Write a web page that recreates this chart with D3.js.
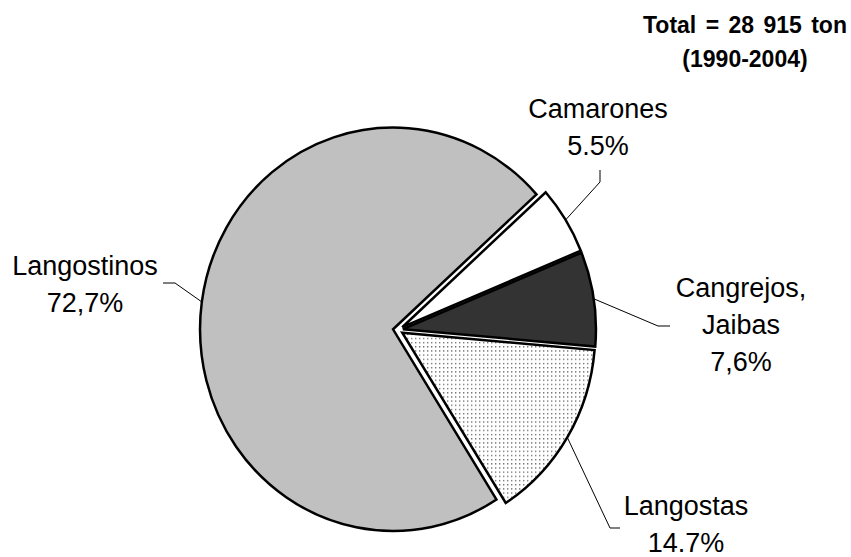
<!DOCTYPE html>
<html>
<head>
<meta charset="utf-8">
<script src="https://cdn.jsdelivr.net/npm/d3@7"></script>
<style>
  html, body { margin: 0; padding: 0; background: #ffffff; }
  svg { display: block; }
  text { font-family: "Liberation Sans", Arial, sans-serif; fill: #000; }
</style>
</head>
<body>
<svg id="chart" width="851" height="557"></svg>
<script>
// Crustacean landings share, 1990-2004
const categories = ["Camarones", "Cangrejos, Jaibas", "Langostas", "Langostinos"];
const shares = [5.5, 7.6, 14.7, 72.7];
const nameLines = [["Camarones"], ["Cangrejos,", "Jaibas"], ["Langostas"], ["Langostinos"]];
const valueLabels = ["5.5%", "7,6%", "14.7%", "72,7%"];
const titleLines = ["Total = 28 915 ton", "(1990-2004)"];

// Layout
const W = 851, H = 557;
const cx = 398, cy = 330, R = 193, yStretch = 1.045, explode = 5;
const startDeg = 48;
const fills = ["#ffffff", "#333333", "url(#dots)", "#c0c0c0"];
// label anchor (centre x, first baseline) and leader elbow/end per slice
const labelLayout = [
  { x: 598, y: 118, elbow: [600, 182], end: [600, 170] },
  { x: 741, y: 297, elbow: [658, 326], end: [670, 326] },
  { x: 686, y: 515, elbow: [610, 528], end: [620, 528] },
  { x: 85,  y: 275, elbow: [175, 283], end: [163, 283] }
];
const lineGap = 37;

const svg = d3.select("#chart");

// dotted fill
const defs = svg.append("defs");
const pat = defs.append("pattern")
  .attr("id", "dots").attr("patternUnits", "userSpaceOnUse")
  .attr("width", 4).attr("height", 4);
pat.append("rect").attr("width", 4).attr("height", 4).attr("fill", "#ffffff");
pat.append("rect").attr("x", 1).attr("y", 1).attr("width", 1).attr("height", 1).attr("fill", "#000");

const a0 = startDeg * Math.PI / 180;
const pie = d3.pie().sort(null).value(d => d).startAngle(a0).endAngle(a0 + 2 * Math.PI);
const arcs = pie(shares);
const arc = d3.arc().innerRadius(0).outerRadius(R);

const g = svg.append("g")
  .attr("transform", `translate(${cx},${cy}) scale(1,${yStretch})`);

const mid = d => (d.startAngle + d.endAngle) / 2;

g.selectAll("path.slice")
  .data(arcs)
  .join("path")
  .attr("class", "slice")
  .attr("d", arc)
  .attr("transform", d => `translate(${explode * Math.sin(mid(d))},${-explode * Math.cos(mid(d))})`)
  .attr("fill", (d, i) => fills[i])
  .attr("stroke", "#000")
  .attr("stroke-width", 2.5)
  .attr("stroke-linejoin", "miter")
  .attr("vector-effect", "non-scaling-stroke");

// leader lines from the arc midpoint of each slice
arcs.forEach((d, i) => {
  const m = mid(d);
  const px = cx + (R + explode) * Math.sin(m);
  const py = cy - (R + explode) * Math.cos(m) * yStretch;
  const L = labelLayout[i];
  svg.append("polyline")
    .attr("points", [[px, py], L.elbow, L.end].map(p => p.join(",")).join(" "))
    .attr("fill", "none")
    .attr("stroke", "#000")
    .attr("stroke-width", 1);
});

// slice labels
arcs.forEach((d, i) => {
  const L = labelLayout[i];
  const lines = nameLines[i].concat([valueLabels[i]]);
  const t = svg.append("text")
    .attr("text-anchor", "middle")
    .attr("font-size", 27);
  lines.forEach((s, k) => {
    t.append("tspan").attr("x", L.x).attr("y", L.y + k * lineGap).text(s);
  });
});

// total
svg.append("text")
  .attr("x", 745).attr("y", 33)
  .attr("text-anchor", "middle")
  .attr("font-size", 23).attr("font-weight", "bold")
  .attr("word-spacing", 3)
  .text(titleLines[0]);
svg.append("text")
  .attr("x", 745).attr("y", 67)
  .attr("text-anchor", "middle")
  .attr("font-size", 23).attr("font-weight", "bold")
  .text(titleLines[1]);
</script>
</body>
</html>
